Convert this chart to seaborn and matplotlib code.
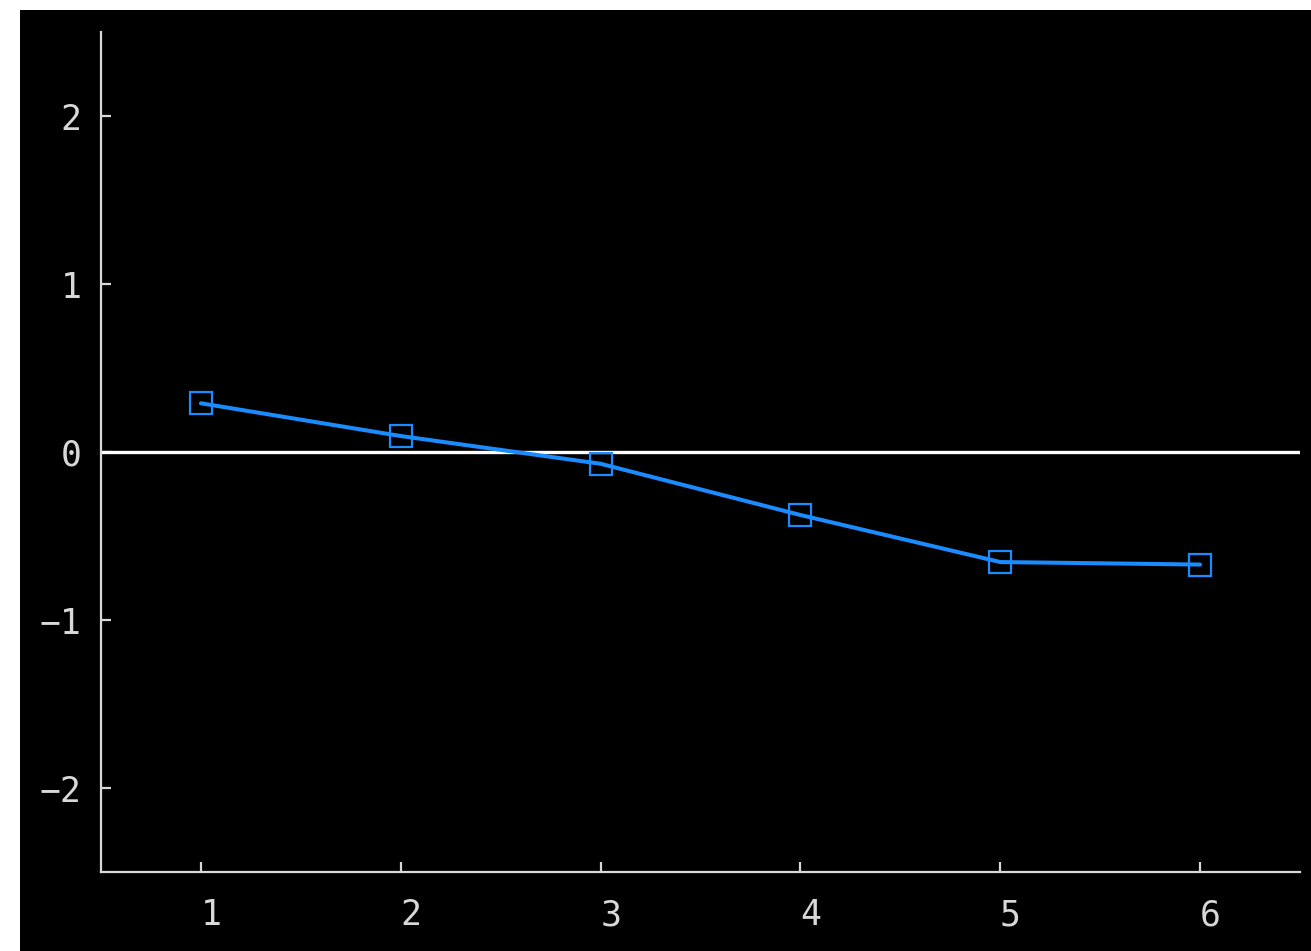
import numpy as np
import pandas as pd
import matplotlib
matplotlib.use("Agg")
import matplotlib.pyplot as plt
import matplotlib.transforms as mtransforms
import seaborn as sns
from matplotlib.patches import Rectangle

# data
x_vals = [1, 2, 3, 4, 5, 6]
y_vals = [0.29, 0.095, -0.07, -0.375, -0.655, -0.67]
y_ticks = [-2, -1, 0, 1, 2]

sns.set_style("ticks")
plt.rcParams['font.family'] = ['DejaVu Sans Mono', 'DejaVu Sans']

fig = plt.figure(figsize=(13.11, 9.51), dpi=100)
fig.patch.set_facecolor("white")
# black panel, leaving a thin white margin top and left
fig.patches.append(Rectangle((20 / 1311, 0), 1, 1 - 10 / 951, transform=fig.transFigure,
                             facecolor="black", edgecolor="none", zorder=-5))

ax = fig.add_axes([101 / 1311, 1 - 872 / 951, 1199 / 1311, 840 / 951])
ax.set_facecolor("black")

df = pd.DataFrame({"x": x_vals, "y": y_vals})
ax.axhline(0, color="white", lw=2.4, zorder=1)
sns.lineplot(data=df, x="x", y="y", ax=ax, color="#1a8cff", lw=2.9,
             marker="s", markersize=16.5, markerfacecolor="none",
             markeredgecolor="#1a8cff", markeredgewidth=1.6, zorder=3)

ax.set_xlim(0.5, 6.5)
ax.set_ylim(-2.5, 2.5)
ax.set_xticks(x_vals)
ax.set_yticks(y_ticks)
ax.set_yticklabels([str(v).replace("-", "\u2212") for v in y_ticks])
ax.set_xlabel("")
ax.set_ylabel("")

grey = "#d8d8d8"
for side in ["top", "right"]:
    ax.spines[side].set_visible(False)
for side in ["left", "bottom"]:
    ax.spines[side].set_color(grey)
    ax.spines[side].set_linewidth(1.6)
ax.tick_params(axis="both", direction="in", length=7.5, width=1.6, color=grey,
               labelcolor=grey, labelsize=25)
ax.tick_params(axis="x", pad=19)
ax.tick_params(axis="y", pad=14)

# x labels sit a little right of their ticks in the reference
shift = mtransforms.ScaledTranslation(10 / 100, 0, fig.dpi_scale_trans)
for lab in ax.get_xticklabels():
    lab.set_transform(lab.get_transform() + shift)

fig.savefig("out.png", dpi=100, facecolor=fig.get_facecolor())
